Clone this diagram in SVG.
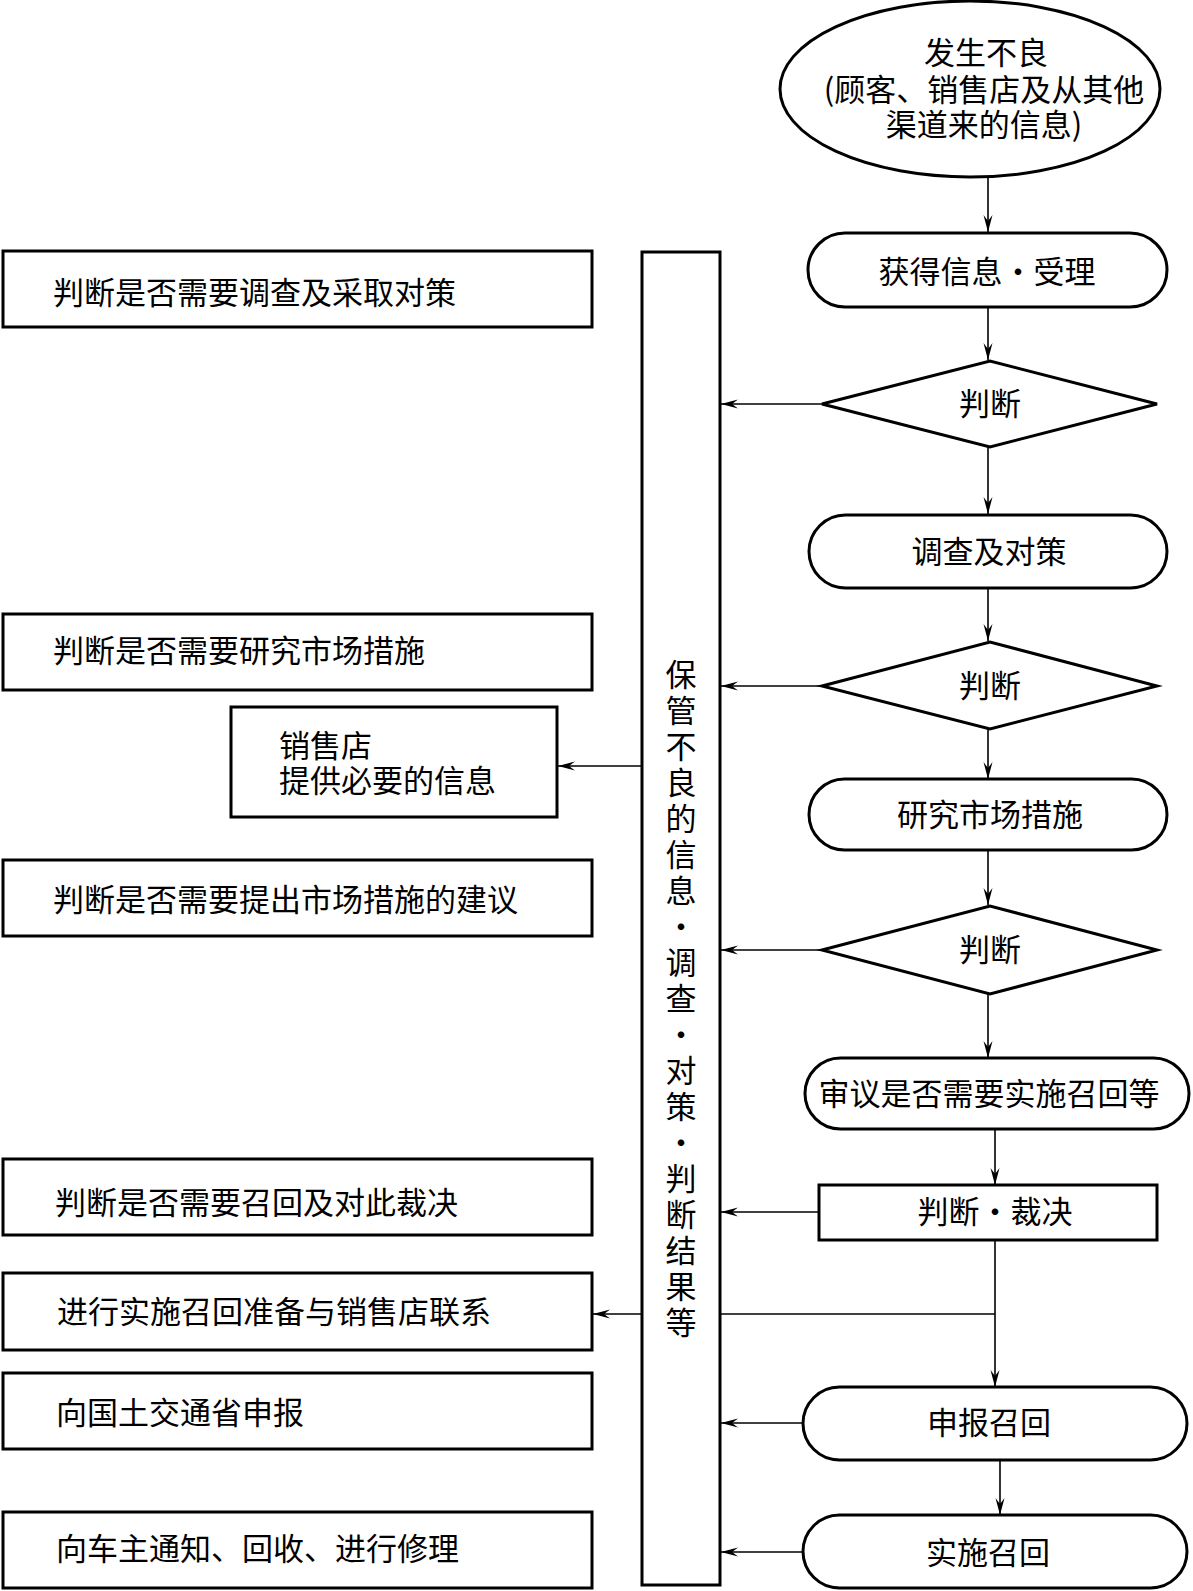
<svg xmlns="http://www.w3.org/2000/svg" width="1193" height="1591" viewBox="0 0 1193 1591">
<style>
.shape{fill:#fff;stroke:#000;stroke-width:3}
.conn{fill:none;stroke:#000;stroke-width:1.6}
.t{font-family:"Noto Sans CJK SC","Noto Sans CJK JP",sans-serif;font-size:31px;fill:#000}
.c{text-anchor:middle}
</style>
<defs>
<marker id="arr" markerUnits="userSpaceOnUse" markerWidth="20" markerHeight="12" viewBox="-18 -6 20 12" refX="0" refY="0" orient="auto">
<path d="M0,0 L-17,-4.5 L-11,0 L-17,4.5 Z" fill="#000"/>
</marker>
</defs>
<rect width="1193" height="1591" fill="#fff"/>

<g id="connectors">
<line class="conn" x1="988" y1="178" x2="988" y2="232" marker-end="url(#arr)"/>
<line class="conn" x1="988" y1="307" x2="988" y2="360" marker-end="url(#arr)"/>
<line class="conn" x1="822" y1="404" x2="721" y2="404" marker-end="url(#arr)"/>
<line class="conn" x1="988" y1="447" x2="988" y2="514" marker-end="url(#arr)"/>
<line class="conn" x1="988" y1="588" x2="988" y2="641" marker-end="url(#arr)"/>
<line class="conn" x1="822" y1="686" x2="721" y2="686" marker-end="url(#arr)"/>
<line class="conn" x1="988" y1="729" x2="988" y2="779" marker-end="url(#arr)"/>
<line class="conn" x1="642" y1="766" x2="558" y2="766" marker-end="url(#arr)"/>
<line class="conn" x1="988" y1="850" x2="988" y2="905" marker-end="url(#arr)"/>
<line class="conn" x1="822" y1="950" x2="721" y2="950" marker-end="url(#arr)"/>
<line class="conn" x1="988" y1="994" x2="988" y2="1058" marker-end="url(#arr)"/>
<line class="conn" x1="995" y1="1129" x2="995" y2="1185" marker-end="url(#arr)"/>
<line class="conn" x1="819" y1="1212" x2="721" y2="1212" marker-end="url(#arr)"/>
<line class="conn" x1="995" y1="1240" x2="995" y2="1387" marker-end="url(#arr)"/>
<line class="conn" x1="720" y1="1314" x2="995" y2="1314"/>
<line class="conn" x1="642" y1="1314" x2="593" y2="1314" marker-end="url(#arr)"/>
<line class="conn" x1="803" y1="1423" x2="721" y2="1423" marker-end="url(#arr)"/>
<line class="conn" x1="1000" y1="1460" x2="1000" y2="1515" marker-end="url(#arr)"/>
<line class="conn" x1="803" y1="1552" x2="721" y2="1552" marker-end="url(#arr)"/>
</g>

<g id="start">
<ellipse class="shape" cx="970" cy="89" rx="190" ry="88"/>
<text class="t c" x="986" y="64">发生不良</text>
<text class="t c" x="984" y="101">(顾客、销售店及从其他</text>
<text class="t c" x="984" y="136">渠道来的信息)</text>
</g>

<g id="receive">
<rect class="shape" x="808" y="233" width="359" height="74" rx="37"/>
<text class="t c" x="987" y="283">获得信息·受理</text>
</g>

<g id="judge1">
<polygon class="shape" points="822,404 990,361 1157,404 990,447"/>
<text class="t c" x="990" y="415">判断</text>
</g>

<g id="investigate">
<rect class="shape" x="809" y="515" width="358" height="73" rx="36.5"/>
<text class="t c" x="989" y="563">调查及对策</text>
</g>

<g id="judge2">
<polygon class="shape" points="822,686 990,642 1157,686 990,729"/>
<text class="t c" x="990" y="697">判断</text>
</g>

<g id="study">
<rect class="shape" x="809" y="779" width="358" height="71" rx="35.5"/>
<text class="t c" x="990" y="826">研究市场措施</text>
</g>

<g id="judge3">
<polygon class="shape" points="822,950 990,906 1157,950 990,994"/>
<text class="t c" x="990" y="961">判断</text>
</g>

<g id="deliberate">
<rect class="shape" x="805" y="1058" width="384" height="71" rx="35.5"/>
<text class="t c" x="989" y="1105">审议是否需要实施召回等</text>
</g>

<g id="decide">
<rect class="shape" x="819" y="1185" width="338" height="55"/>
<text class="t c" x="995" y="1223">判断·裁决</text>
</g>

<g id="report">
<rect class="shape" x="803" y="1387" width="384" height="73" rx="36.5"/>
<text class="t c" x="989" y="1434">申报召回</text>
</g>

<g id="implement">
<rect class="shape" x="803" y="1515" width="384" height="73" rx="36.5"/>
<text class="t c" x="988" y="1564">实施召回</text>
</g>

<g id="storage">
<rect class="shape" x="642" y="252" width="78" height="1333"/>
<text class="t c" x="681" y="686">保<tspan x="681" dy="36">管</tspan><tspan x="681" dy="36">不</tspan><tspan x="681" dy="36">良</tspan><tspan x="681" dy="36">的</tspan><tspan x="681" dy="36">信</tspan><tspan x="681" dy="36">息</tspan><tspan x="681" dy="36">·</tspan><tspan x="681" dy="36">调</tspan><tspan x="681" dy="36">查</tspan><tspan x="681" dy="36">·</tspan><tspan x="681" dy="36">对</tspan><tspan x="681" dy="36">策</tspan><tspan x="681" dy="36">·</tspan><tspan x="681" dy="36">判</tspan><tspan x="681" dy="36">断</tspan><tspan x="681" dy="36">结</tspan><tspan x="681" dy="36">果</tspan><tspan x="681" dy="36">等</tspan></text>
</g>

<g id="left1">
<rect class="shape" x="3" y="251" width="589" height="76"/>
<text class="t" x="53" y="304">判断是否需要调查及采取对策</text>
</g>
<g id="left2">
<rect class="shape" x="3" y="614" width="589" height="76"/>
<text class="t" x="53" y="662">判断是否需要研究市场措施</text>
</g>
<g id="left3">
<rect class="shape" x="231" y="707" width="326" height="110"/>
<text class="t" x="279" y="757">销售店</text>
<text class="t" x="279" y="792">提供必要的信息</text>
</g>
<g id="left4">
<rect class="shape" x="3" y="860" width="589" height="76"/>
<text class="t" x="53" y="911">判断是否需要提出市场措施的建议</text>
</g>
<g id="left5">
<rect class="shape" x="3" y="1159" width="589" height="76"/>
<text class="t" x="55" y="1214">判断是否需要召回及对此裁决</text>
</g>
<g id="left6">
<rect class="shape" x="3" y="1273" width="589" height="77"/>
<text class="t" x="57" y="1323">进行实施召回准备与销售店联系</text>
</g>
<g id="left7">
<rect class="shape" x="3" y="1373" width="589" height="76"/>
<text class="t" x="56" y="1424">向国土交通省申报</text>
</g>
<g id="left8">
<rect class="shape" x="3" y="1512" width="589" height="76"/>
<text class="t" x="56" y="1560">向车主通知、回收、进行修理</text>
</g>
</svg>
